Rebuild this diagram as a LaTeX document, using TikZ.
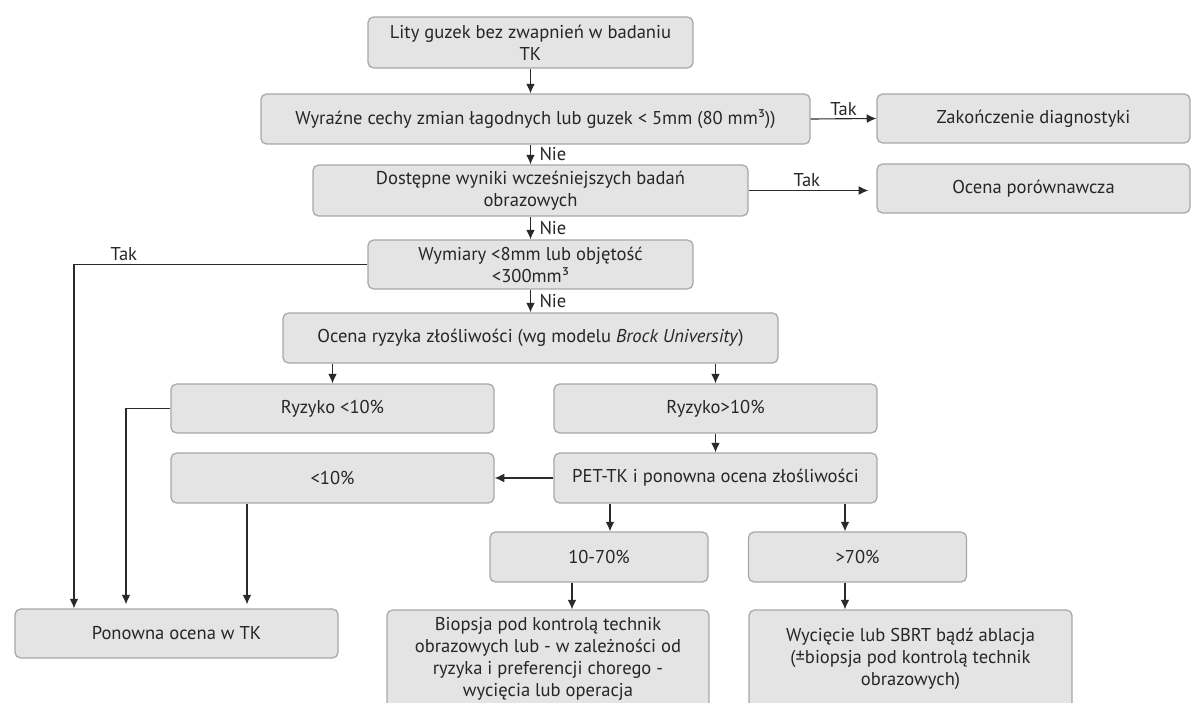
\documentclass[tikz,border=0pt]{standalone}
\usepackage{fontspec}
\setmainfont{PT Sans}
\usetikzlibrary{arrows.meta}
\definecolor{boxfill}{HTML}{E4E4E4}
\definecolor{boxline}{HTML}{A8A8A8}
\definecolor{lineclr}{HTML}{2A2A2A}
\begin{document}
\begin{tikzpicture}[x=0.025cm,y=-0.025cm]
\tikzstyle{box}=[rectangle, rounded corners=4pt, draw=boxline, line width=0.9pt, fill=boxfill, inner sep=1pt, align=center, text=black!85, font=\fontsize{13.2}{15.6}\selectfont]
\tikzstyle{arr}=[draw=lineclr, line width=0.8pt, -{Latex[length=2.4mm,width=2.2mm]}]
\tikzstyle{lbl}=[font=\fontsize{13.2}{15.6}\selectfont, text=black!85, inner sep=2pt]
\useasboundingbox (0,0) rectangle (1192,703);

\node [box, minimum width=8.125cm, minimum height=1.275cm] (lity) at (530.5,42.5) {Lity guzek bez zwapnień w badaniu\\TK};
\node [box, minimum width=13.725cm, minimum height=1.25cm] (wyr) at (535.5,119) {Wyraźne cechy zmian łagodnych lub guzek < 5mm (80 mm³))};
\node [box, minimum width=7.825cm, minimum height=1.225cm] (zak) at (1033.5,118.5) {Zakończenie diagnostyki};
\node [box, minimum width=10.875cm, minimum height=1.275cm] (dost) at (530.5,190.5) {Dostępne wyniki wcześniejszych badań\\obrazowych};
\node [box, minimum width=7.825cm, minimum height=1.225cm] (porow) at (1033.5,188.5) {Ocena porównawcza};
\node [box, minimum width=8.125cm, minimum height=1.225cm] (wym) at (530.5,264.5) {Wymiary <8mm lub objętość\\<300mm³};
\node [box, minimum width=12.375cm, minimum height=1.25cm] (ryzyko) at (530.5,338) {Ocena ryzyka złośliwości (wg modelu \textit{Brock University})};
\node [box, minimum width=8.075cm, minimum height=1.225cm] (niskie) at (332.5,408.5) {Ryzyko <10\%};
\node [box, minimum width=8.075cm, minimum height=1.225cm] (wysokie) at (715.5,408.5) {Ryzyko>10\%};
\node [box, minimum width=8.075cm, minimum height=1.25cm] (pmniej) at (332.5,478) {<10\%};
\node [box, minimum width=8.075cm, minimum height=1.25cm] (pet) at (715.5,478) {PET-TK i ponowna ocena złośliwości};
\node [box, minimum width=5.45cm, minimum height=1.25cm] (psred) at (599,557) {10-70\%};
\node [box, minimum width=5.45cm, minimum height=1.25cm] (pwys) at (857.5,557) {>70\%};
\node [box, minimum width=8.075cm, minimum height=1.225cm] (ponow) at (176.5,633.5) {Ponowna ocena w TK};
\node [box, minimum width=8.05cm, minimum height=2.45cm] (biop) at (548,659) {Biopsja pod kontrolą technik\\obrazowych lub - w zależności od\\ryzyka i preferencji chorego -\\wycięcia lub operacja};
\node [box, minimum width=8.075cm, minimum height=2.45cm] (wyc) at (910.5,659) {Wycięcie lub SBRT bądź ablacja\\(±biopsja pod kontrolą technik\\obrazowych)};

\draw [arr] (lity.south) -- (lity.south |- wyr.north);
\foreach \a/\b in {wyr/dost, dost/wym, wym/ryzyko}
\draw [arr] (\b.north |- \a.south) -- node [lbl, right, xshift=4pt] {Nie} (\b.north);

\draw [arr] (wyr.east) -- node [lbl, above] {Tak} (zak.west);
\draw [arr, shorten >=2mm] (dost.east) -- node [lbl, above, xshift=-4pt] {Tak} (dost.east -| porow.west);

\coordinate (tak) at (74,264.5);
\draw [arr] (wym.west) -- node [lbl, above, pos=0.83] {Tak} (tak) -- (tak |- ponow.north);

\foreach \b in {niskie, wysokie}
\draw [arr] (\b.north |- ryzyko.south) -- (\b.north);
\draw [arr] (wysokie) -- (pet);
\draw [arr] (pet) -- (pmniej);

\coordinate (nis) at (126,408.5);
\draw [arr, shorten >=1mm] (niskie.west) -- (nis) -- (nis |- ponow.north);
\path (pmniej.south) ++(-85.5,0) coordinate (mn);
\draw [arr, shorten >=1mm] (mn) -- (mn |- ponow.north);

\path (psred.north) ++(11,0) coordinate (s1);
\path (pwys.north) ++(-12.5,0) coordinate (w1);
\foreach \c/\b in {s1/psred, w1/pwys}
\draw [arr] (\c |- pet.south) -- (\c);

\path (psred.south) ++(-27,0) coordinate (s2);
\path (pwys.south) ++(-12.5,0) coordinate (w2);
\draw [arr] (s2) -- (s2 |- biop.north);
\draw [arr] (w2) -- (w2 |- wyc.north);

\end{tikzpicture}
\end{document}
